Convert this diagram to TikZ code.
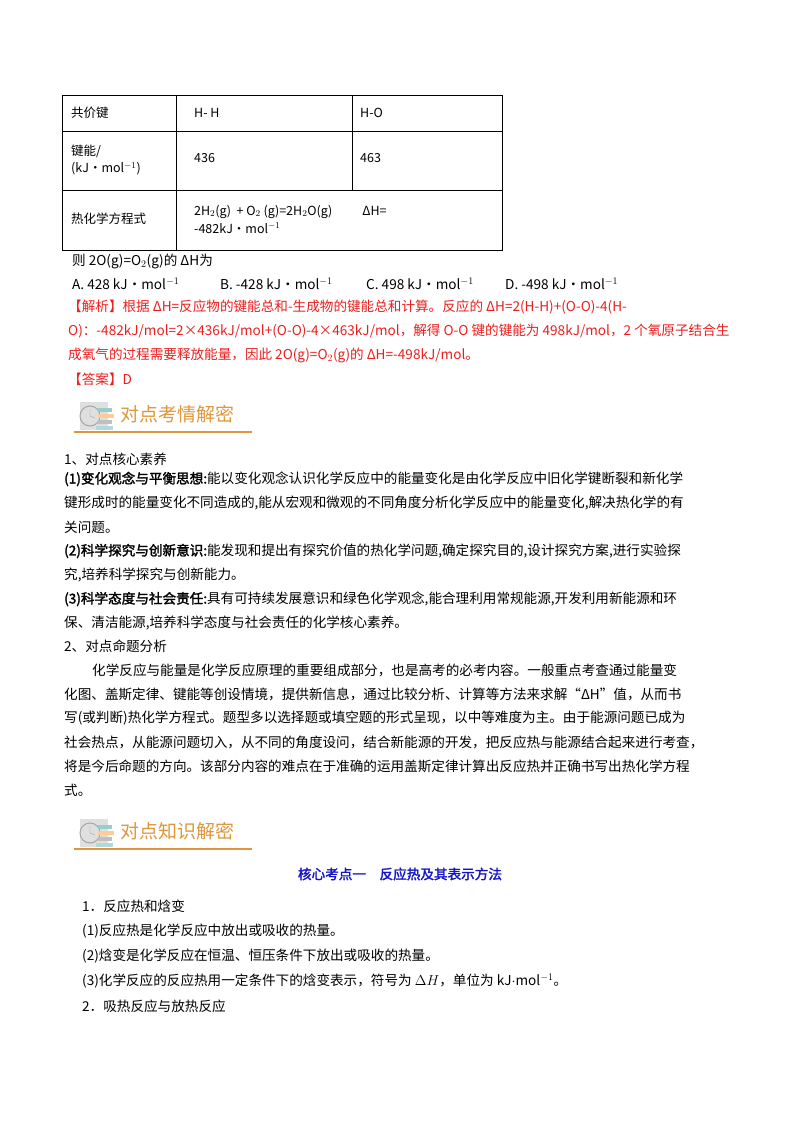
\documentclass[tikz,border=0pt]{standalone}
\usepackage{fontspec}
\setmainfont{Noto Sans CJK SC}
\newfontfamily\cjkb[FakeBold=2]{Noto Sans CJK SC}
\definecolor{ansred}{RGB}{235,30,30}
\definecolor{bannerorange}{RGB}{222,150,60}
\definecolor{headblue}{RGB}{20,20,200}
\begin{document}
\begin{tikzpicture}[x=1pt,y=-1pt,
  ln/.style={anchor=west,inner sep=0pt,font=\fontsize{13.6}{15}\selectfont},
  rl/.style={ln,text=ansred},
  cell/.style={anchor=west,inner sep=0pt,font=\fontsize{12.5}{14}\selectfont,align=left},
  banner/.style={anchor=west,inner sep=0pt,font=\fontsize{19}{20}\selectfont,text=bannerorange}]
\useasboundingbox (0,0) rectangle (800,1132);
% table
\draw[line width=0.9pt] (62,95) rectangle (502,250);
\draw[line width=0.9pt] (62,131) -- (502,131) (62,190) -- (502,190);
\draw[line width=0.9pt] (176,95) -- (176,250) (352,95) -- (352,190);
\node[cell] (c11) at (71,113) {共价键};
\node[cell] (c12) at (194,113) {H- H};
\node[cell] (c13) at (360,113) {H-O};
\node[cell] (c21) at (71,160) {键能/\\[3pt](kJ・mol$^{-1}$)};
\node[cell] (c22) at (194,158) {436};
\node[cell] (c23) at (360,158) {463};
\node[cell] (c31) at (71,219) {热化学方程式};
\node[cell] (c32) at (194,219) {2H$_2$(g)\ \ +\ O$_2$\ (g)=2H$_2$O(g)\hspace{30pt}ΔH=\\[4pt]-482kJ・mol$^{-1}$};
% question
\node[ln] (q) at (72,261) {则 2O(g)=O$_2$(g)的 ΔH为};
\node[ln] (oa) at (72,284) {A.\ 428 kJ・mol$^{-1}$};
\node[ln] (ob) at (220,284) {B.\ -428 kJ・mol$^{-1}$};
\node[ln] (oc) at (366,284) {C.\ 498 kJ・mol$^{-1}$};
\node[ln] (od) at (505,284) {D.\ -498 kJ・mol$^{-1}$};
\node[rl] (j1) at (68,307) {【解析】根据 ΔH=反应物的键能总和-生成物的键能总和计算。反应的 ΔH=2(H-H)+(O-O)-4(H-};
\node[rl] (j2) at (68,331) {O)：-482kJ/mol=2×436kJ/mol+(O-O)-4×463kJ/mol，解得 O-O 键的键能为 498kJ/mol，2 个氧原子结合生};
\node[rl] (j3) at (68,355) {成氧气的过程需要释放能量，因此 2O(g)=O$_2$(g)的 ΔH=-498kJ/mol。};
\node[rl] (ans) at (68,379) {【答案】D};
% banner 1
\begin{scope}[shift={(78,398)}]
\fill[gray!25] (2,4) rectangle (30,32);
\draw[gray!70,line width=1pt] (12,18) circle (10);
\draw[gray!70] (12,18) -- (12,11) (12,18) -- (17,20);
\fill[teal!40] (20,10) rectangle (34,14);
\fill[orange!40] (20,16) rectangle (36,20);
\fill[gray!50] (20,22) rectangle (34,26);
\fill[teal!30] (18,28) rectangle (35,32);
\end{scope}
\node[banner] (b1) at (120,414) {对点考情解密};
\draw[bannerorange,line width=1.3pt] (74,432) -- (252,432);
% section 1
\node[ln] (s1) at (64,459) {1、对点核心素养};
\node[ln] (p1a) at (64,479) {{\cjkb (1)变化观念与平衡思想:}能以变化观念认识化学反应中的能量变化是由化学反应中旧化学键断裂和新化学};
\node[ln] (p1b) at (64,503) {键形成时的能量变化不同造成的,能从宏观和微观的不同角度分析化学反应中的能量变化,解决热化学的有};
\node[ln] (p1c) at (64,527) {关问题。};
\node[ln] (p2a) at (64,551) {{\cjkb (2)科学探究与创新意识:}能发现和提出有探究价值的热化学问题,确定探究目的,设计探究方案,进行实验探};
\node[ln] (p2b) at (64,575) {究,培养科学探究与创新能力。};
\node[ln] (p3a) at (64,599) {{\cjkb (3)科学态度与社会责任:}具有可持续发展意识和绿色化学观念,能合理利用常规能源,开发利用新能源和环};
\node[ln] (p3b) at (64,623) {保、清洁能源,培养科学态度与社会责任的化学核心素养。};
\node[ln] (s2) at (64,646) {2、对点命题分析};
\node[ln] (m1) at (92,670) {化学反应与能量是化学反应原理的重要组成部分，也是高考的必考内容。一般重点考查通过能量变};
\node[ln] (m2) at (64,694) {化图、盖斯定律、键能等创设情境，提供新信息，通过比较分析、计算等方法来求解“ΔH”值，从而书};
\node[ln] (m3) at (64,718) {写(或判断)热化学方程式。题型多以选择题或填空题的形式呈现，以中等难度为主。由于能源问题已成为};
\node[ln] (m4) at (64,742) {社会热点，从能源问题切入，从不同的角度设问，结合新能源的开发，把反应热与能源结合起来进行考查，};
\node[ln] (m5) at (64,766) {将是今后命题的方向。该部分内容的难点在于准确的运用盖斯定律计算出反应热并正确书写出热化学方程};
\node[ln] (m6) at (64,790) {式。};
% banner 2
\begin{scope}[shift={(78,815)}]
\fill[gray!25] (2,4) rectangle (30,32);
\draw[gray!70,line width=1pt] (12,18) circle (10);
\draw[gray!70] (12,18) -- (12,11) (12,18) -- (17,20);
\fill[teal!40] (20,10) rectangle (34,14);
\fill[orange!40] (20,16) rectangle (36,20);
\fill[gray!50] (20,22) rectangle (34,26);
\fill[teal!30] (18,28) rectangle (35,32);
\end{scope}
\node[banner] (b2) at (120,831) {对点知识解密};
\draw[bannerorange,line width=1.3pt] (74,849) -- (252,849);
\node[anchor=center,inner sep=0pt,font=\cjkb\fontsize{13.6}{15}\selectfont,text=headblue] (h) at (400,874) {核心考点一\quad 反应热及其表示方法};
\node[ln] (k1) at (82,906) {1．反应热和焓变};
\node[ln] (k2) at (82,931) {(1)反应热是化学反应中放出或吸收的热量。};
\node[ln] (k3) at (82,956) {(2)焓变是化学反应在恒温、恒压条件下放出或吸收的热量。};
\node[ln] (k4) at (82,981) {(3)化学反应的反应热用一定条件下的焓变表示，符号为 $\Delta H$，单位为 kJ$\cdot$mol$^{-1}$。};
\node[ln] (k5) at (82,1006) {2．吸热反应与放热反应};
\end{tikzpicture}
\end{document}
